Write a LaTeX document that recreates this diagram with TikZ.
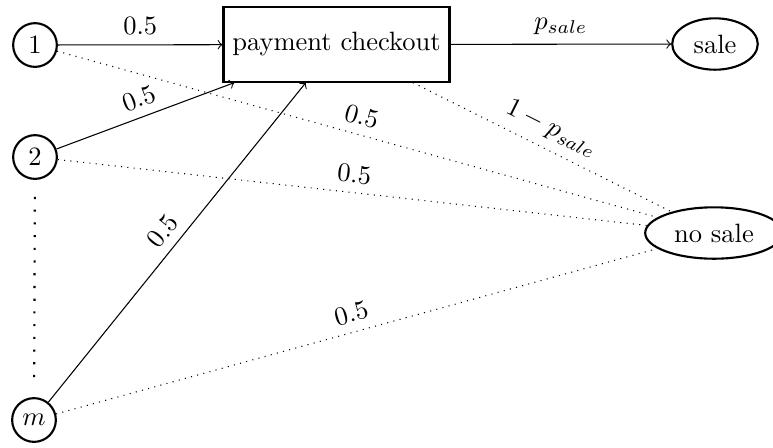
\documentclass[tikz,border=0pt]{standalone}
\usetikzlibrary{shapes.geometric}
\begin{document}
\begin{tikzpicture}[x=0.3774pt,y=-0.3774pt,
  statenode/.style={circle,draw,thick,minimum size=16.5pt,inner sep=1pt},
  boxnode/.style={rectangle,draw,thick,minimum height=28pt},
  endnode/.style={ellipse,draw,thick},
  flow/.style={->},
  lost/.style={dotted},
  lbl/.style={midway,above,sloped}]
\useasboundingbox (0,0) rectangle (773,447);
\node[statenode] (n1) at (35,45) {1};
\node[statenode] (n2) at (35,157) {2};
\node[statenode] (nm) at (34,420) {$m$};
\node[boxnode] (pay) at (336.5,44.5) {payment checkout};
\node[endnode] (sale) at (715,44) {sale};
\node[endnode] (nosale) at (714,233) {no sale};
\draw[thick,loosely dotted,shorten <=6.4pt,shorten >=7.5pt] (n2) -- (nm);
\draw[flow] (n1) -- node[above] {0.5} (pay);
\draw[flow] (n2) -- node[lbl] {0.5} (pay);
\draw[flow] (nm) -- node[lbl] {0.5} (pay);
\draw[flow] (pay) -- node[above] {$p_{sale}$} (sale);
\draw[lost] (n1) -- node[lbl] {0.5} (nosale);
\draw[lost] (n2) -- node[lbl] {0.5} (nosale);
\draw[lost] (nm) -- node[lbl] {0.5} (nosale);
\draw[lost] (pay) -- node[lbl] {$1-p_{sale}$} (nosale);
\end{tikzpicture}
\end{document}
